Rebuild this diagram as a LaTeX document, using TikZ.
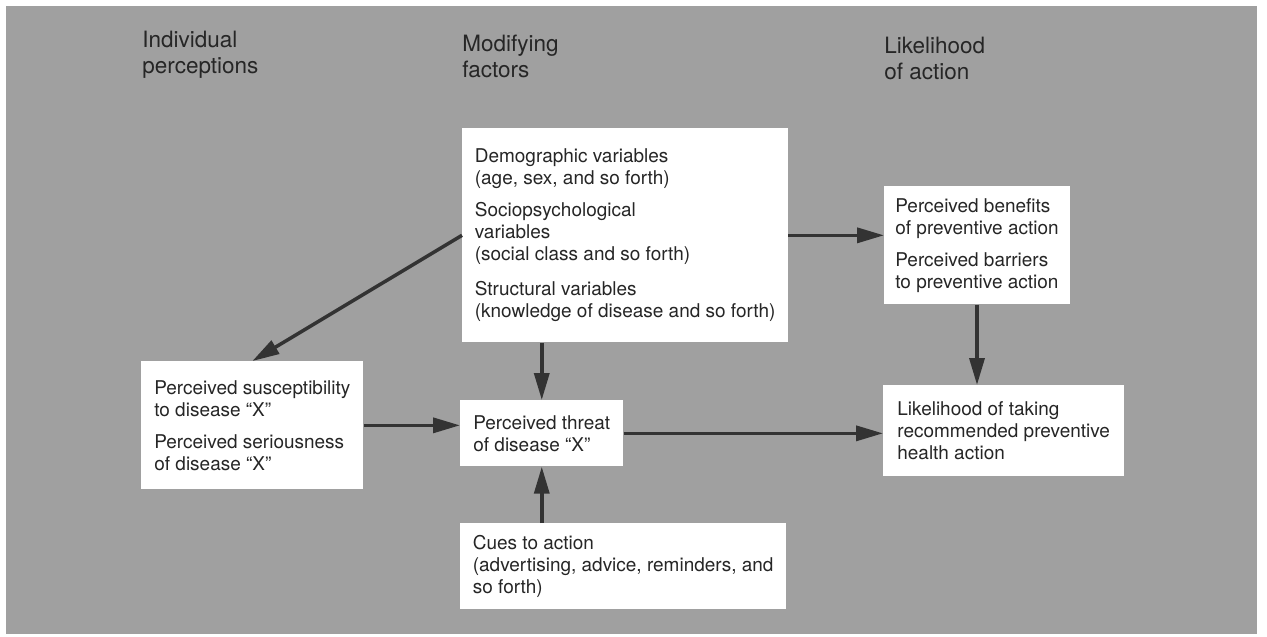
\documentclass[tikz,border=0pt]{standalone}
\usepackage{fontspec}
\setmainfont{TeX Gyre Heros}
\usetikzlibrary{arrows.meta}

\definecolor{hbpaper}{HTML}{A0A0A0}
\definecolor{hbink}{HTML}{262626}
\definecolor{hbarrow}{HTML}{333333}

\begin{document}
\begin{tikzpicture}[
  x=0.02cm, y=-0.02cm,
  box/.style={fill=white, anchor=north west, align=left, text=hbink,
    inner xsep=0.25cm, inner ysep=0pt, font=\fontsize{10.8}{12.5}\selectfont},
  head/.style={anchor=north west, align=left, text=hbink, inner sep=0pt,
    font=\fontsize{12.8}{14.6}\selectfont},
  link/.style={draw=hbarrow, line width=2pt,
    -{Triangle[length=0.54cm, width=0.3cm]}},
]
  \useasboundingbox (0,0) rectangle (1267,636);
  \fill[white] (0,0) rectangle (1267,636);
  \fill[hbpaper] (6,6) rectangle (1257,634);

  % column headings
  \node[head] (hperc) at (142,31) {Individual\\perceptions};
  \node[head] (hmod)  at (462,35) {Modifying\\factors};
  \node[head] (hlike) at (884,37) {Likelihood\\of action};

  % boxes
  \node[box, minimum height=4.28cm] (modif) at (462,128)
    {Demographic variables\\(age, sex, and so forth)\\[0.2cm]
     Sociopsychological\\variables\\(social class and so forth)\\[0.26cm]
     Structural variables\\(knowledge of disease and so forth)};
  \node[box, inner xsep=0.22cm, minimum height=2.36cm] (benefit) at (884,186)
    {Perceived benefits\\of preventive action\\[0.2cm]
     Perceived barriers\\to preventive action};
  \node[box, inner xsep=0.26cm, minimum height=2.56cm] (suscept) at (141,361)
    {Perceived susceptibility\\to disease ``X''\\[0.2cm]
     Perceived seriousness\\of disease ``X''};
  \node[box, inner xsep=0.26cm, minimum height=1.32cm] (threat) at (460,400)
    {Perceived threat\\of disease ``X''};
  \node[box, minimum height=1.72cm] (cues) at (460,523)
    {Cues to action\\(advertising, advice, reminders, and\\so forth)};
  \node[box, inner xsep=0.28cm, minimum height=1.82cm] (likely) at (883,385)
    {Likelihood of taking\\recommended preventive\\health action};

  % connectors
  \draw[link] (modif.west) -- (suscept.north);
  \draw[link] (threat.north |- modif.south) -- (threat.north);
  \draw[link] (threat.south |- cues.north) -- (threat.south);
  \draw[link] (modif.east) -- (modif.east -| benefit.west);
  \draw[link] (benefit.south) -- (benefit.south |- likely.north);
  \draw[link] (suscept.east) -- (suscept.east -| threat.west);
  \draw[link] (threat.east) -- (threat.east -| likely.west);
\end{tikzpicture}
\end{document}
